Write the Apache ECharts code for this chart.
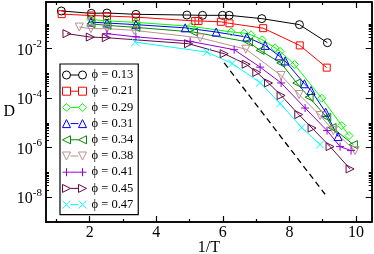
<!DOCTYPE html>
<html><head><meta charset="utf-8">
<script src="https://cdn.jsdelivr.net/npm/echarts@6/dist/echarts.min.js"></script>
<style>html,body{margin:0;padding:0;background:#fff}#c{width:374px;height:254px}</style>
</head><body><div id="c"></div>
<script>
// ---- data (x = 1/T, y = D) ----
const phiLabels = ['ϕ = 0.13','ϕ = 0.21','ϕ = 0.29','ϕ = 0.31','ϕ = 0.34','ϕ = 0.38','ϕ = 0.41','ϕ = 0.45','ϕ = 0.47'];

const x013 = [1.15, 2.05, 2.52, 3.39, 4.92, 5.39, 5.99, 6.19, 7.17, 8.30, 9.14];
const d013 = [0.333, 0.269, 0.276, 0.245, 0.229, 0.223, 0.223, 0.223, 0.164, 0.0938, 0.0175];

const x021 = [1.16, 2.05, 2.52, 3.39, 5.17, 5.27, 5.94, 6.20, 7.21, 8.31, 9.12];
const d021 = [0.249, 0.219, 0.209, 0.188, 0.132, 0.132, 0.122, 0.106, 0.0676, 0.0136, 0.00172];

const x029 = [2.04, 2.52, 3.39, 5.05, 6.25, 6.64, 6.85, 7.18, 7.57, 7.72, 8.15, 8.97, 9.57, 9.79];
const d029 = [0.153, 0.133, 0.116, 0.080, 0.0479, 0.0424, 0.0362, 0.0231, 0.0108, 0.00778, 0.00231, 1.0e-4, 7.85e-6, 3.09e-6];

const x031 = [2.04, 2.52, 3.39, 4.87, 5.80, 6.72, 7.27, 7.69, 7.87, 8.45, 8.65, 9.09, 9.46];
const d031 = [0.119, 0.109, 0.0938, 0.0695, 0.047, 0.0295, 0.0136, 0.00512, 0.00321, 3.83e-4, 2.05e-4, 2.71e-5, 2.82e-6];

const x034 = [2.04, 2.52, 3.39, 5.12, 6.77, 7.12, 7.74, 8.22, 8.59, 9.12, 9.28, 9.92];
const d034 = [0.101, 0.0877, 0.0728, 0.047, 0.0185, 0.00853, 0.00266, 4.12e-4, 1.10e-4, 1.70e-5, 6.52e-6, 1.34e-6];

const x038 = [1.69, 2.04, 2.52, 3.34, 5.32, 6.69, 7.75, 8.29, 8.92, 9.32, 9.97];
const d038 = [0.0748, 0.0646, 0.0646, 0.0551, 0.0274, 0.00955, 8.30e-4, 1.41e-4, 2.0e-5, 4.92e-6, 7.64e-7];

const x041 = [2.52, 3.39, 5.02, 6.34, 7.12, 7.75, 8.47, 9.13, 9.52, 9.85];
const d041 = [0.0405, 0.0301, 0.0198, 0.00912, 0.0018, 4.12e-4, 4.01e-5, 4.92e-6, 1.11e-6, 7.64e-7];

const x045 = [1.32, 2.02, 2.50, 4.97, 6.04, 6.70, 7.02, 7.37, 7.75, 8.28, 8.68, 9.22, 9.82];
const d045 = [0.0405, 0.0295, 0.0279, 0.0159, 0.00628, 0.00236, 0.0011, 4.12e-4, 1.29e-4, 2.19e-5, 6.22e-6, 1.11e-6, 1.39e-7];

const x047 = [3.37, 5.52, 6.28, 7.12, 7.72, 8.37, 8.92];
const d047 = [0.0185, 0.00728, 0.00254, 4.25e-4, 6.10e-5, 6.52e-6, 1.34e-6];

const xDash = [6.04, 9.07];
const dDash = [0.00266, 1.32e-8];

const xMajorTicks = [2, 4, 6, 8, 10];
const xMinorTicks = [1, 3, 5, 7, 9];
const yMajorTicks = [1e-8, 1e-6, 1e-4, 1e-2];
const yMinorTicks = [
  1e-9, 1e-7, 1e-5, 1e-3, 1e-1,
  2e-8, 3e-8, 4e-8, 5e-8, 6e-8, 7e-8, 8e-8, 9e-8,
  2e-6, 3e-6, 4e-6, 5e-6, 6e-6, 7e-6, 8e-6, 9e-6,
  2e-4, 3e-4, 4e-4, 5e-4, 6e-4, 7e-4, 8e-4, 9e-4,
  2e-2, 3e-2, 4e-2, 5e-2, 6e-2, 7e-2, 8e-2, 9e-2
];

// ---- styling ----
const colors = ['#000000','#ff0000','#00ff00','#0000ff','#008b00','#bc8f8f','#9400d3','#670748','#00ffff'];
const xs = [x013,x021,x029,x031,x034,x038,x041,x045,x047];
const ds = [d013,d021,d029,d031,d034,d038,d041,d045,d047];
const circ = (cx)=>`M${cx-4},4A4,4 0 1,1 ${cx+4},4A4,4 0 1,1 ${cx-4},4Z`;
const shapes = [
  {sym:'circle', rot:0, leg:(o)=>circ(o+4)},
  {sym:'rect', rot:0, leg:(o)=>`M${o},0H${o+8}V8H${o}Z`},
  {sym:'diamond', rot:0, leg:(o)=>`M${o+4},0L${o+8},4L${o+4},8L${o},4Z`},
  {sym:'triangle', rot:0, leg:(o)=>`M${o+4},0L${o+8},8L${o},8Z`},
  {sym:'triangle', rot:90, leg:(o)=>`M${o},4L${o+8},0L${o+8},8Z`},
  {sym:'triangle', rot:180, leg:(o)=>`M${o},0L${o+8},0L${o+4},8Z`},
  {sym:'path://M0,5L10,5M5,0L5,10', rot:0, leg:(o)=>`M${o},4H${o+8}M${o+4},0V8`},
  {sym:'triangle', rot:-90, leg:(o)=>`M${o},0L${o+8},4L${o},8Z`},
  {sym:'path://M0,0L10,10M0,10L10,0', rot:0, leg:(o)=>`M${o},0L${o+8},8M${o},8L${o+8},0`}
];
const serif = 'Liberation Serif';

const series = phiLabels.map((name,i)=>({
  name, type:'line', xAxisIndex:0, yAxisIndex:0,
  data: xs[i].map((x,k)=>[x, ds[i][k]]),
  symbol: shapes[i].sym, symbolRotate: shapes[i].rot,
  symbolSize: (shapes[i].sym==='rect') ? 7 : 8,
  lineStyle:{color:colors[i], width:1},
  itemStyle:{color:'rgba(0,0,0,0)', borderColor:colors[i], borderWidth:1},
  emphasis:{disabled:true}, animation:false, z: 2
}));
series.push({
  name:'dash', type:'line', data: xDash.map((x,k)=>[x,dDash[k]]),
  symbol:'none', lineStyle:{color:'#000', width:1.3, type:[6,4]}, animation:false, z:1
});

const legendData = phiLabels.map((name,i)=>({
  name,
  icon: 'path://' + shapes[i].leg(0) + 'M8,4H16' + shapes[i].leg(16),
  itemStyle:{color:'rgba(0,0,0,0)', borderColor:colors[i], borderWidth:1}
}));

const axLine = {show:true, lineStyle:{color:'#000', width:1.5}};
function xAx(pos, ticks, len, labels){
  return {type:'value', min:0.69, max:10.47, position:pos, gridIndex:0,
    axisLine: axLine, splitLine:{show:false},
    axisTick:{show:true, inside:true, length:len, customValues:ticks, lineStyle:{color:'#000', width:1.2}},
    axisLabel: labels ? {show:true, customValues:xMajorTicks, margin:3, fontFamily:serif, fontSize:16, color:'#000'} : {show:false}
  };
}
function yAx(pos, ticks, len, labels){
  return {type:'log', logBase:10, min:1e-9, max:0.77, position:pos, gridIndex:0,
    axisLine: axLine, splitLine:{show:false},
    axisTick:{show:true, inside:true, length:len, customValues:ticks, lineStyle:{color:'#000', width:1}},
    axisLabel: labels ? {show:true, customValues:yMajorTicks, margin:4,
      formatter:(v)=>'{a|10}{b|' + Math.round(Math.log10(v)) + '}',
      rich:{a:{fontFamily:serif, fontSize:16, color:'#000', verticalAlign:'bottom', lineHeight:20},
            b:{fontFamily:serif, fontSize:11, color:'#000', verticalAlign:'top', lineHeight:20}}} : {show:false}
  };
}
const xAxes = [xAx('bottom', xMajorTicks, 6, true), xAx('bottom', xMinorTicks, 3, false), xAx('top', xMajorTicks, 6, false), xAx('top', xMinorTicks, 3, false)];
xAxes[0].name = '1/T'; xAxes[0].nameLocation='middle'; xAxes[0].nameGap=18; xAxes[0].nameMoveOverlap=false;
xAxes[0].nameTextStyle = {fontFamily:serif, fontSize:16, color:'#000'};
const yAxes = [yAx('left', yMajorTicks, 6, true), yAx('left', yMinorTicks, 3, false), yAx('right', yMajorTicks, 6, false), yAx('right', yMinorTicks, 3, false)];
yAxes[0].name = 'D'; yAxes[0].nameLocation='middle'; yAxes[0].nameGap=31; yAxes[0].nameRotate=0; yAxes[0].nameMoveOverlap=false;
yAxes[0].nameTextStyle = {fontFamily:serif, fontSize:16, color:'#000'};

const chart = echarts.init(document.getElementById('c'), null, {renderer:'canvas'});
chart.setOption({
  animation:false,
  backgroundColor:'#fff',
  grid:{left:46, right:2.3, top:2, bottom:32, containLabel:false, outerBoundsMode:'none'},
  xAxis: xAxes, yAxis: yAxes,
  legend:{
    data: legendData, orient:'vertical', left:60, top:64,
    itemWidth:24, itemHeight:8, itemGap:2.2,
    padding:[4,5,3,2], backgroundColor:'#fff', borderColor:'#000', borderWidth:1.2, borderRadius:0,
    textStyle:{fontFamily:serif, fontSize:12.5, color:'#000', lineHeight:14},
    selectedMode:false
  },
  series
});
</script></body></html>
